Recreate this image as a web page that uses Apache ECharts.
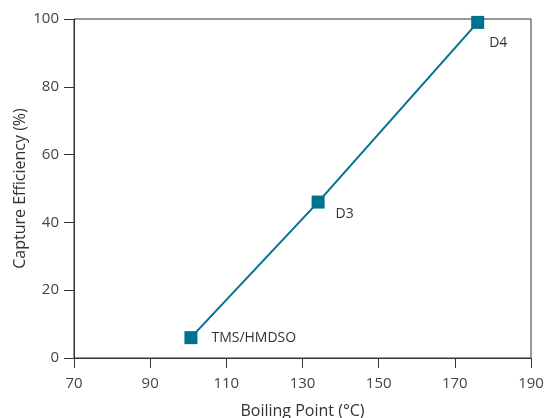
<!DOCTYPE html>
<html><head><meta charset="utf-8">
<script src="https://cdn.jsdelivr.net/npm/echarts@6/dist/echarts.min.js"></script>
<style>html,body{margin:0;padding:0;background:#fff}#c{width:545px;height:418px}</style>
</head><body><div id="c"></div>
<script>
const names = ['TMS/HMDSO', 'D3', 'D4'];
const boilingPoint = [100.7, 134.1, 176];
const efficiency = [6, 46, 99];
const xTicks = [70, 90, 110, 130, 150, 170, 190];
const yTicks = [0, 20, 40, 60, 80, 100];
const labelOffsets = [[9, 0], [6, 12], [0, 21]];
const labelPos = ['right', 'right', 'right'];

const col = '#00718e';
const data = names.map((n, i) => ({
  value: [boilingPoint[i], efficiency[i]],
  name: n,
  label: { show: true, position: labelPos[i], offset: labelOffsets[i], formatter: n }
}));
const chart = echarts.init(document.getElementById('c'));
const font = 'Open Sans';
chart.setOption({
  animation: false,
  grid: { left: 74, right: 14, top: 19, bottom: 60, show: true, borderColor: '#333', borderWidth: 1,
          containLabel: false, outerBoundsMode: 'none' },
  xAxis: {
    type: 'value', min: 70, max: 190, interval: 20,
    name: 'Boiling Point (°C)', nameLocation: 'middle', nameGap: 45, nameMoveOverlap: false,
    nameTextStyle: { fontFamily: font, fontSize: 16, color: '#333' },
    axisLine: { show: true, lineStyle: { color: '#333' } },
    axisTick: { show: true, length: 10, lineStyle: { color: '#333' } },
    axisLabel: { fontFamily: font, fontSize: 15, color: '#444', margin: 18 },
    splitLine: { show: false }
  },
  yAxis: {
    type: 'value', min: 0, max: 100, interval: 20,
    name: 'Capture Efficiency (%)', nameLocation: 'middle', nameGap: 46, nameMoveOverlap: false,
    nameTextStyle: { fontFamily: font, fontSize: 16, color: '#333' },
    axisLine: { show: true, lineStyle: { color: '#333' } },
    axisTick: { show: true, length: 10, lineStyle: { color: '#333' } },
    axisLabel: { fontFamily: font, fontSize: 15, color: '#444', margin: 15 },
    splitLine: { show: false }
  },
  series: [{
    type: 'line',
    data: data,
    symbol: 'rect', symbolSize: 13,
    itemStyle: { color: col },
    lineStyle: { color: col, width: 2 },
    label: { fontFamily: font, fontSize: 14, color: '#333' }
  }]
});
</script></body></html>
